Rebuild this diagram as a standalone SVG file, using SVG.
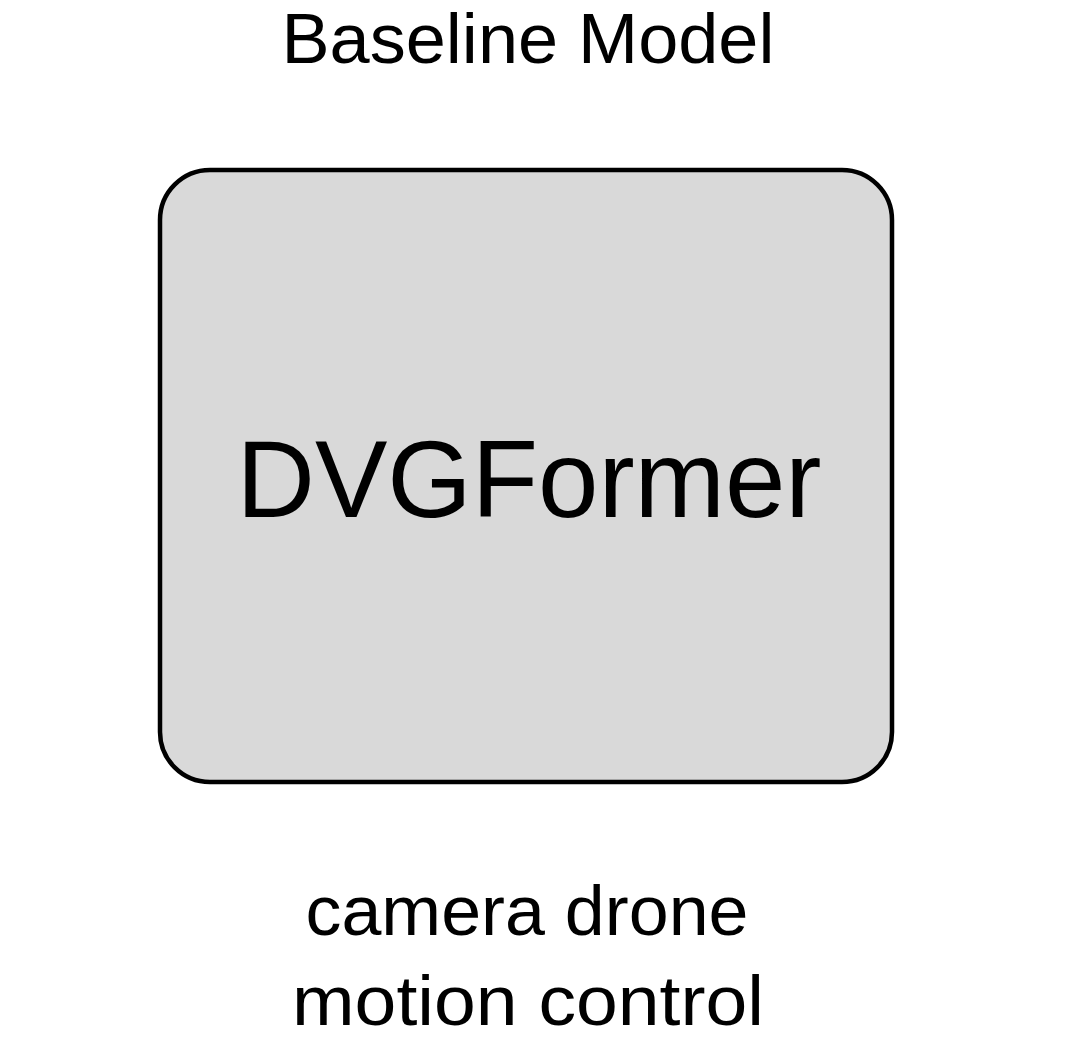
<svg xmlns="http://www.w3.org/2000/svg" width="1084" height="1050" viewBox="0 0 1084 1050">
<style>
text{font-family:"Liberation Sans","Open Sans",sans-serif;fill:#000;text-anchor:middle}
.box{fill:#d9d9d9;stroke:#000;stroke-width:4.5}
</style>
<rect width="1084" height="1050" fill="#fff"/>
<g id="title"><text x="528" y="63" font-size="70" textLength="493" lengthAdjust="spacingAndGlyphs">Baseline Model</text></g>
<g id="dvgformer">
<rect class="box" x="160" y="170" width="732" height="612" rx="50" ry="50"/>
<text x="529" y="517" font-size="110" textLength="585" lengthAdjust="spacingAndGlyphs">DVGFormer</text>
</g>
<g id="caption">
<text x="527" y="935" font-size="70" textLength="443" lengthAdjust="spacingAndGlyphs">camera drone</text>
<text x="528" y="1025" font-size="70" textLength="472" lengthAdjust="spacingAndGlyphs">motion control</text>
</g>
<g id="connectors"></g>
</svg>
